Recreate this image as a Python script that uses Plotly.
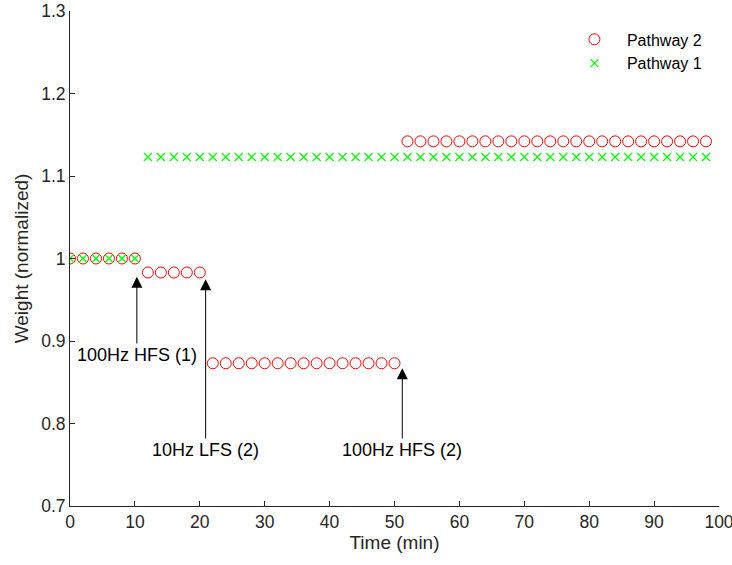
import plotly.graph_objects as go

# Pathway 2 (red circles)
p2_time = [0, 2, 4, 6, 8, 10,
           12, 14, 16, 18, 20,
           22, 24, 26, 28, 30, 32, 34, 36, 38, 40, 42, 44, 46, 48, 50,
           52, 54, 56, 58, 60, 62, 64, 66, 68, 70, 72, 74, 76, 78, 80, 82, 84, 86, 88, 90, 92, 94, 96, 98]
p2_weight = [1.0] * 6 + [0.983] * 5 + [0.873] * 15 + [1.142] * 24

# Pathway 1 (green crosses)
p1_time = [0, 2, 4, 6, 8, 10,
           12, 14, 16, 18, 20, 22, 24, 26, 28, 30, 32, 34, 36, 38, 40, 42, 44, 46, 48, 50,
           52, 54, 56, 58, 60, 62, 64, 66, 68, 70, 72, 74, 76, 78, 80, 82, 84, 86, 88, 90, 92, 94, 96, 98]
p1_weight = [1.0] * 6 + [1.123] * 44

# Annotations: label, arrow x, head y, label y
ann_labels = ["100Hz HFS (1)", "10Hz LFS (2)", "100Hz HFS (2)"]
ann_x = [10.3, 20.9, 51.2]
ann_head_y = [0.978, 0.975, 0.867]
ann_label_y = [0.883, 0.768, 0.768]

x_ticks = [0, 10, 20, 30, 40, 50, 60, 70, 80, 90, 100]
y_ticks = [0.7, 0.8, 0.9, 1.0, 1.1, 1.2, 1.3]
y_ticktext = ["0.7", "0.8", "0.9", "1", "1.1", "1.2", "1.3"]

FONT = "Liberation Sans, Arial, sans-serif"
AX = "#262626"

fig = go.Figure()
fig.add_trace(go.Scatter(
    x=p2_time, y=p2_weight, mode="markers", name="Pathway 2",
    marker=dict(symbol="circle-open", size=11, color="#ff0000", line=dict(width=1)),
))
fig.add_trace(go.Scatter(
    x=p1_time, y=p1_weight, mode="markers", name="Pathway 1",
    marker=dict(symbol="x-thin-open", size=8, color="#00ff00", line=dict(width=1.2, color="#00ff00")),
))

for lab, xv, hy, ly in zip(ann_labels, ann_x, ann_head_y, ann_label_y):
    fig.add_annotation(
        x=xv, y=hy, ax=xv, ay=ly, xref="x", yref="y", axref="x", ayref="y",
        text=lab, showarrow=True, arrowhead=2, arrowsize=2.2, arrowwidth=1,
        arrowcolor="#000000", standoff=0, startstandoff=0,
        font=dict(family=FONT, size=18, color="#000000"),
    )

fig.update_layout(
    width=732, height=565,
    margin=dict(l=70, r=13, t=11, b=59, autoexpand=False),
    paper_bgcolor="white", plot_bgcolor="white",
    font=dict(family=FONT, size=17, color=AX),
    showlegend=True,
    legend=dict(x=0.758, y=0.977, xanchor="left", yanchor="top",
                bgcolor="rgba(0,0,0,0)", borderwidth=0,
                font=dict(family=FONT, size=16, color="#000000"),
                itemwidth=55, tracegroupgap=0),
    xaxis=dict(range=[0, 100], tickvals=x_ticks, ticks="inside", ticklen=5,
               showline=True, linecolor=AX, linewidth=1, tickcolor=AX,
               showgrid=False, zeroline=False, automargin=False,
               ticklabeloverflow="allow",
               title=dict(text="Time (min)", standoff=4, font=dict(size=19, color=AX)),
               tickfont=dict(size=17.5, color=AX)),
    yaxis=dict(range=[0.7, 1.3], tickvals=y_ticks, ticktext=y_ticktext, ticks="inside", ticklen=5,
               showline=True, linecolor=AX, linewidth=1, tickcolor=AX,
               showgrid=False, zeroline=False, automargin=False,
               ticklabeloverflow="allow",
               title=dict(text="Weight (normalized)", standoff=7, font=dict(size=19, color=AX)),
               tickfont=dict(size=17.5, color=AX)),
)

fig.write_html("out.html")
